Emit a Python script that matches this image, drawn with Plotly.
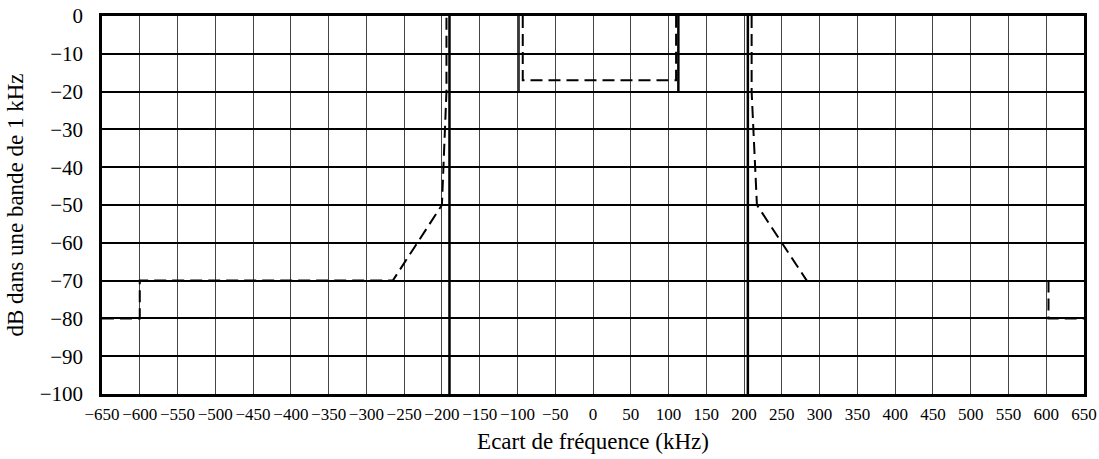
import plotly.graph_objects as go

# Masque de spectre : écart de fréquence (kHz) / niveau (dB dans 1 kHz)
# Gabarit en tirets, côté négatif
dash_left_f = [-650, -600, -600, -265, -200, -194, -194]
dash_left_db = [-80, -80, -70, -70, -50, -20, 0]
# Gabarit en tirets, partie centrale
dash_mid_f = [-93, -93, 110, 110]
dash_mid_db = [0, -17, -17, 0]
# Gabarit en tirets, côté positif
dash_right_f = [210, 210, 217, 283]
dash_right_db = [0, -20, -50, -70]
dash_far_f = [603, 603, 650]
dash_far_db = [-70, -80, -80]

# Limites en trait plein
solid_left_f = [-190, -190]
solid_left_db = [0, -100]
solid_right_f = [205, 205]
solid_right_db = [0, -100]
solid_mid_left_f = [-98, -98]
solid_mid_right_f = [113, 113]
solid_mid_db = [0, -20]

x_ticks = list(range(-650, 651, 50))
y_ticks = list(range(-100, 1, 10))

FONT = "Liberation Serif, Times New Roman, serif"

fig = go.Figure()

for fx, fy, w in [(solid_left_f, solid_left_db, 2.5), (solid_right_f, solid_right_db, 2.5),
                  (solid_mid_left_f, solid_mid_db, 1.5), (solid_mid_right_f, solid_mid_db, 2.5)]:
    fig.add_trace(go.Scatter(x=fx, y=fy, mode="lines",
                             line=dict(color="black", width=w),
                             showlegend=False, hoverinfo="skip"))

for fx, fy in [(dash_left_f, dash_left_db), (dash_mid_f, dash_mid_db),
               (dash_right_f, dash_right_db), (dash_far_f, dash_far_db)]:
    fig.add_trace(go.Scatter(x=fx, y=fy, mode="lines",
                             line=dict(color="black", width=2, dash="12px,6px"),
                             showlegend=False, hoverinfo="skip"))

fig.update_layout(
    width=1099, height=459,
    margin=dict(l=102, r=15, t=16, b=65, autoexpand=False),
    paper_bgcolor="white", plot_bgcolor="white",
    font=dict(family=FONT, color="black"),
)

fig.update_xaxes(
    range=[-650, 650], tickmode="array", tickvals=x_ticks,
    ticktext=[str(v).replace("-", "\u2212") for v in x_ticks],
    tickfont=dict(size=17, family=FONT), ticks="", ticklabelstandoff=3,
    showgrid=True, gridcolor="#444", gridwidth=1, automargin=False,
    zeroline=False, showline=True, linecolor="black", linewidth=2.5, mirror=True,
    title=dict(text="Ecart de fréquence (kHz)", font=dict(size=23, family=FONT), standoff=10),
)
fig.update_yaxes(
    range=[-100, 0], tickmode="array", tickvals=y_ticks,
    ticktext=[str(v).replace("-", "\u2212") for v in y_ticks],
    tickfont=dict(size=21, family=FONT), ticks="", ticklabelstandoff=12,
    showgrid=True, gridcolor="black", gridwidth=1.5, automargin=False,
    zeroline=False, showline=True, linecolor="black", linewidth=2.5, mirror=True,
    title=dict(text="dB dans une bande de 1 kHz", font=dict(size=23, family=FONT), standoff=10),
)

fig.write_html("out.html")
